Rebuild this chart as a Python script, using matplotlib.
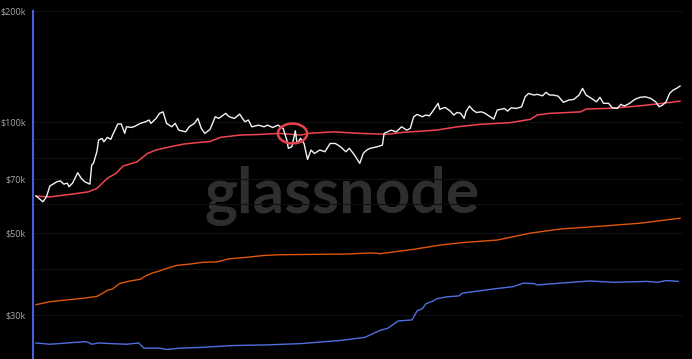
import matplotlib
matplotlib.use("Agg")
import matplotlib.pyplot as plt
from matplotlib.path import Path
from matplotlib.ticker import FixedLocator, FixedFormatter, NullLocator

# price (white), values in $k, x = day index
price_days = [0, 4, 6, 8, 12, 14, 16, 18, 19, 21, 24, 26, 28, 31, 32, 33, 35, 36, 38, 39,
              41, 43, 44, 47, 49, 51, 52, 55, 57, 60, 63, 65, 66, 69, 71, 73, 75, 78, 80, 82,
              86, 88, 91, 93, 95, 97, 100, 103, 105, 109, 111, 114, 117, 120, 122, 124, 128, 131, 133, 136,
              139, 142, 144, 145, 147, 149, 150, 152, 154, 156, 158, 160, 163, 166, 169, 172, 175, 178, 180, 183,
              186, 188, 190, 192, 196, 199, 200, 202, 204, 207, 210, 213, 215, 217, 219, 222, 224, 226, 228, 231,
              232, 235, 238, 240, 242, 244, 246, 247, 249, 251, 253, 256, 258, 261, 263, 265, 268, 269, 271, 273,
              276, 279, 281, 283, 286, 288, 291, 293, 295, 297, 300, 303, 306, 309, 312, 314, 316, 319, 322, 324,
              326, 329, 331, 334, 336, 338, 341, 344, 347, 350, 353, 356, 358, 360, 362, 364, 366, 368, 370]
price = [63.1, 60.8, 62.7, 67.1, 68.9, 69.3, 67.9, 68.3, 66.8, 68.3, 72.9, 70.4, 68.9, 67.9, 76.5, 77.3, 83.1, 89.4, 90.3, 88.4,
         90.9, 89.8, 92.2, 98.8, 98.8, 93.2, 97.1, 96.7, 97.5, 99.2, 100.2, 101.3, 99.2, 102.3, 105.6, 106.6, 99.2, 97.1, 99.2, 95.1,
         94.1, 97.1, 99.2, 102.3, 96.1, 93.2, 95.5, 103.4, 102.3, 105.6, 103.4, 102.3, 105.1, 100.2, 101.3, 97.1, 98.1, 97.1, 98.1, 96.7,
         98.1, 96.1, 89.8, 84.9, 85.7, 94.7, 87.5, 90.3, 87.5, 79.2, 84.0, 82.2, 84.0, 83.1, 87.5, 87.5, 85.7, 83.1, 84.9, 81.4,
         77.3, 82.2, 84.0, 84.9, 85.7, 86.6, 93.2, 94.1, 95.1, 94.1, 97.1, 95.1, 96.1, 103.4, 104.9, 103.4, 104.5, 104.0, 107.1, 112.4,
         108.3, 109.6, 107.1, 104.5, 106.2, 105.6, 102.3, 106.6, 110.5, 107.8, 106.2, 106.6, 105.6, 103.4, 101.9, 107.8, 108.5, 108.9, 107.1, 109.3,
         108.9, 110.0, 117.1, 119.6, 118.4, 118.9, 117.8, 120.4, 118.4, 118.4, 117.6, 113.1, 114.7, 115.2, 118.4, 123.4, 118.4, 116.0, 113.5, 116.7,
         112.4, 112.4, 109.3, 108.9, 111.7, 110.5, 112.4, 115.2, 116.7, 117.1, 116.0, 113.5, 110.0, 111.2, 113.5, 119.6, 122.1, 123.4, 125.2]

# red line
red_days = [0, 8, 21, 30, 35, 41, 46, 50, 58, 64, 69, 77, 85, 92, 100, 106, 117, 129, 140, 152,
            157, 171, 186, 198, 201, 211, 230, 242, 255, 272, 284, 288, 295, 303, 313, 316, 328, 341, 351, 360, 370]
red = [63.0, 62.7, 63.8, 64.7, 66.1, 70.4, 72.6, 76.0, 78.0, 82.2, 84.0, 85.7, 87.2, 87.9, 88.6, 90.9, 92.2, 92.6, 93.2, 92.2,
       93.2, 94.1, 93.2, 92.8, 92.6, 93.8, 95.1, 97.1, 98.6, 99.6, 101.7, 104.5, 105.6, 106.0, 106.6, 108.5, 108.9, 110.0, 111.2, 112.4, 114.0]

# orange line
orange_days = [0, 8, 16, 27, 35, 38, 41, 44, 48, 54, 60, 63, 67, 71, 75, 81, 88, 96, 104, 111,
               121, 131, 140, 159, 179, 192, 198, 217, 232, 244, 265, 284, 301, 324, 347, 370]
orange = [32.0, 32.6, 32.9, 33.3, 33.7, 34.3, 35.0, 35.3, 36.5, 37.1, 37.5, 38.3, 39.0, 39.5, 40.1, 40.9, 41.2, 41.7, 41.8, 42.6,
          43.0, 43.5, 43.7, 43.8, 43.9, 44.2, 44.0, 45.2, 46.4, 47.1, 47.9, 50.0, 51.3, 52.2, 53.2, 54.9]

# blue line
blue_days = [0, 8, 18, 28, 30, 32, 36, 43, 52, 59, 62, 71, 75, 83, 94, 113, 133, 152, 175, 189,
             198, 202, 208, 216, 219, 222, 224, 228, 230, 236, 243, 245, 255, 265, 274, 280, 286, 288, 301, 318,
             332, 351, 357, 362, 369]
blue = [25.2, 25.0, 25.2, 25.4, 25.3, 25.0, 25.2, 25.1, 25.0, 25.2, 24.4, 24.4, 24.2, 24.4, 24.5, 24.8, 24.9, 25.1, 25.6, 26.1,
        27.3, 27.6, 28.9, 29.1, 30.8, 31.2, 32.2, 32.7, 33.2, 33.6, 33.8, 34.4, 34.9, 35.4, 35.8, 36.6, 36.5, 36.2, 36.6, 37.1,
        36.8, 37.0, 36.8, 37.2, 37.0]

grid_ticks = [30, 40, 50, 60, 70, 80, 90, 100, 200]
tick_labels = ["$30k", "", "$50k", "", "$70k", "", "", "$100k", "$200k"]

# highlighted point
mark_day = 147
mark_value = 93.2

fig = plt.figure(figsize=(6.92, 3.59), dpi=100, facecolor="black")
ax = fig.add_axes([33 / 692, 0, 650 / 692, 348 / 359])
ax.set_facecolor("black")

ax.text(0.475, 0.47, "glassnode", transform=ax.transAxes, ha="center", va="center",
        fontsize=45, color="#2e2e2e", family="Lato", fontweight="bold", zorder=0)

ax.plot(blue_days, blue, color="#4f6fe0", lw=1.0, zorder=3)
ax.plot(orange_days, orange, color="#e0560c", lw=1.0, zorder=3)
ax.plot(red_days, red, color="#ee4550", lw=1.1, zorder=3)
ax.plot(price_days, price, color="#f2f2f2", lw=1.0, zorder=4)

# ellipse marker round the highlighted point
ell = Path.unit_circle()
ell = Path(ell.vertices * [1.47, 1.0], ell.codes)
ax.plot([mark_day], [mark_value], marker=ell, ms=21, mfc="none", mec="#e8434c", mew=1.8, zorder=5)

ax.set_yscale("log")
ax.set_ylim(22.8, 200)
ax.set_xlim(-1.7, 371.7)
ax.yaxis.set_major_locator(FixedLocator(grid_ticks))
ax.yaxis.set_major_formatter(FixedFormatter(tick_labels))
ax.yaxis.set_minor_locator(NullLocator())
ax.set_xticks([])
ax.tick_params(axis="y", length=0, pad=5, labelsize=6.5, labelcolor="#a8a8a8")
for lab in ax.get_yticklabels():
    lab.set_family("Open Sans")
ax.grid(axis="y", color="#101010", lw=0.8)
ax.set_axisbelow(True)

for s in ["top", "right", "bottom"]:
    ax.spines[s].set_visible(False)
ax.spines["left"].set_color("#4660d8")
ax.spines["left"].set_linewidth(1.5)

fig.savefig("out.png", dpi=100, facecolor="black")
